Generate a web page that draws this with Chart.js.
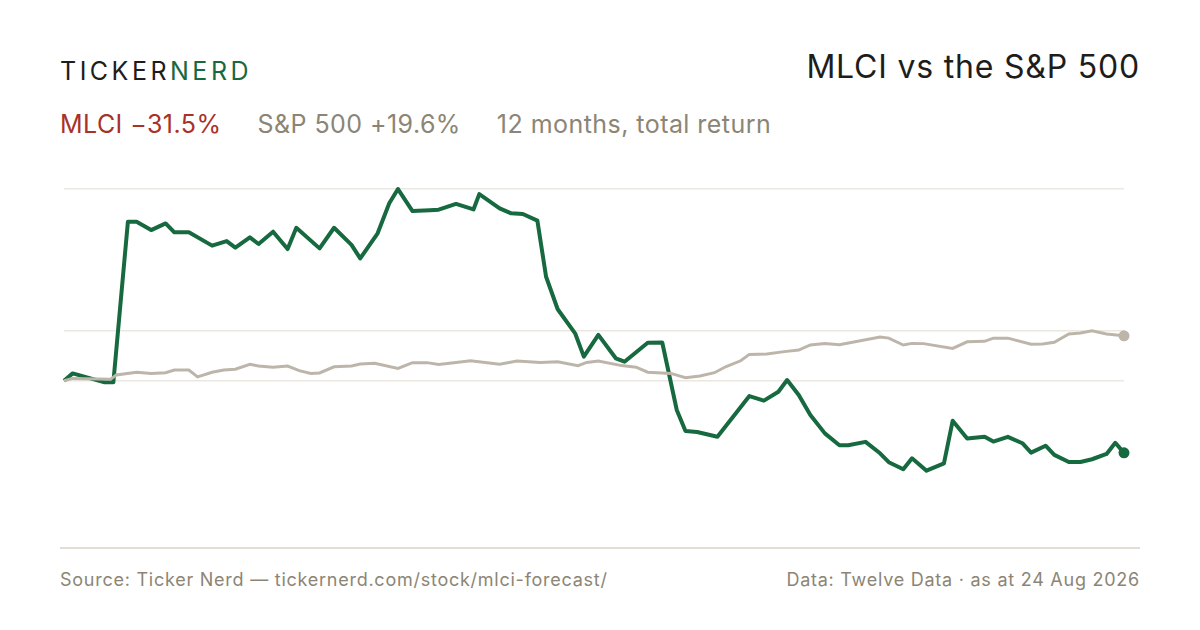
<!DOCTYPE html>
<html>
<head>
<meta charset="utf-8">
<script src="https://cdn.jsdelivr.net/npm/chart.js@4"></script>
<style>
  html, body { margin: 0; padding: 0; background: #fff; }
  body { width: 1200px; height: 630px; position: relative; overflow: hidden; font-family: Inter, "Noto Sans", sans-serif; }
  .brand { position: absolute; left: 60px; top: 56px; font-size: 25px; letter-spacing: 3.5px; color: #1d1d1b; font-weight: 400; }
  .brand span { color: #17693f; }
  .title { position: absolute; right: 60px; top: 47px; font-size: 32px; letter-spacing: 0.8px; color: #1d1d1b; }
  .sub { position: absolute; left: 60px; top: 109px; font-size: 25px; letter-spacing: 0.45px; color: #8c8575; white-space: nowrap; }
  .sub .neg { color: #a8312a; margin-right: 36px; }
  .sub .sp { margin-right: 36px; }
  .chart { position: absolute; left: 44px; top: 150px; width: 1100px; height: 360px; }
  .rule { position: absolute; left: 60px; top: 547px; width: 1080px; height: 2px; background: #e2ded5; }
  .foot { position: absolute; top: 569px; font-size: 18px; letter-spacing: 0.75px; color: #8c8575; }
</style>
</head>
<body>
<div class="brand">TICKER<span>NERD</span></div>
<div class="title">MLCI vs the S&amp;P 500</div>
<div class="sub"><span class="neg">MLCI −31.5%</span><span class="sp">S&amp;P 500 +19.6%</span>12 months, total return</div>
<div class="chart"><canvas id="c" width="1100" height="360"></canvas></div>
<div class="rule"></div>
<div class="foot" style="left:60px">Source: Ticker Nerd — tickernerd.com/stock/mlci-forecast/</div>
<div class="foot" style="right:60px">Data: Twelve Data · as at 24 Aug 2026</div>
<script>
// days since start, total return in %
const mlciDays = [0, 3, 14, 17, 22, 25, 30, 35, 38, 43, 51, 56, 59, 64, 67, 72, 77, 80, 88, 93, 99, 102, 108, 112, 115, 120, 126, 129, 135, 141, 143, 150, 154, 158, 163, 166, 170, 176, 179, 184, 190, 193, 201, 206, 211, 214, 218, 225, 236, 241, 246, 249, 253, 257, 262, 267, 270, 276, 281, 284, 289, 292, 297, 303, 306, 311, 317, 320, 325, 330, 333, 338, 341, 346, 350, 354, 359, 362, 365];
const mlciReturn = [0, 3.2, -0.7, -0.7, 69.4, 69.4, 65.8, 68.7, 64.8, 64.8, 59.0, 61.0, 58.1, 62.6, 59.7, 65.1, 57.5, 66.8, 57.8, 66.8, 59.3, 53.4, 64.4, 77.5, 83.7, 74.1, 74.5, 74.7, 77.2, 74.8, 81.5, 75.3, 73.1, 72.8, 69.9, 45.4, 31.2, 20.7, 10.5, 20.0, 9.8, 8.3, 16.6, 16.7, -12.8, -22.0, -22.4, -24.5, -6.7, -8.7, -4.8, 0.3, -6.2, -15.0, -23.0, -28.2, -28.2, -26.7, -31.7, -35.6, -38.7, -33.9, -39.3, -36.1, -17.5, -25.2, -24.5, -26.6, -24.5, -27.3, -31.4, -28.4, -32.4, -35.5, -35.5, -34.3, -32.0, -27.1, -31.5];
const spxDays = [0, 3, 16, 18, 25, 30, 35, 38, 43, 46, 51, 55, 59, 64, 67, 72, 77, 81, 85, 88, 93, 99, 102, 107, 115, 120, 125, 129, 135, 140, 150, 156, 164, 170, 177, 180, 184, 192, 197, 201, 209, 214, 219, 224, 228, 233, 236, 242, 248, 253, 257, 262, 267, 281, 284, 289, 292, 296, 306, 311, 317, 320, 325, 333, 337, 341, 346, 350, 354, 359, 365];
const spxReturn = [0, 1.0, 0.6, 2.5, 3.7, 3.2, 3.5, 4.7, 4.7, 1.7, 3.7, 4.7, 5.0, 7.2, 6.4, 5.9, 6.4, 4.4, 3.2, 3.4, 6.1, 6.4, 7.3, 7.6, 5.4, 7.9, 7.9, 7.1, 8.0, 8.7, 7.2, 8.6, 8.0, 8.3, 6.6, 8.0, 8.6, 6.6, 5.9, 3.7, 3.2, 1.3, 2.1, 3.5, 6.2, 8.7, 11.5, 11.7, 12.7, 13.4, 15.6, 16.2, 15.7, 19.1, 18.6, 15.6, 16.3, 16.2, 14.1, 17.0, 17.2, 18.6, 18.6, 15.9, 16.0, 16.8, 20.4, 20.8, 21.8, 20.4, 19.6];

const toPoints = (days, vals) => days.map((d, i) => ({ x: d, y: vals[i] }));
const lastDot = (ctx) => ctx.dataIndex === ctx.dataset.data.length - 1 ? 5.5 : 0;

new Chart(document.getElementById('c'), {
  type: 'line',
  data: {
    datasets: [
      {
        label: 'S&P 500',
        data: toPoints(spxDays, spxReturn),
        borderColor: '#bdb5aa',
        backgroundColor: '#bdb5aa',
        borderWidth: 3,
        pointRadius: lastDot,
        pointBorderWidth: 0,
        tension: 0,
        clip: false
      },
      {
        label: 'MLCI',
        data: toPoints(mlciDays, mlciReturn),
        borderColor: '#17693f',
        backgroundColor: '#17693f',
        borderWidth: 4,
        pointRadius: lastDot,
        pointBorderWidth: 0,
        borderJoinStyle: 'round',
        tension: 0,
        clip: false
      }
    ]
  },
  options: {
    responsive: false,
    animation: false,
    layout: { padding: { left: 20, right: 20, top: 10, bottom: 10 } },
    plugins: { legend: { display: false }, tooltip: { enabled: false } },
    scales: {
      x: { type: 'linear', min: 0, max: 365, display: false },
      y: {
        min: -52.1,
        max: 96.4,
        border: { display: false },
        grid: { color: '#ebe8e1', lineWidth: 1.5, drawTicks: false },
        ticks: { display: false },
        afterBuildTicks: (axis) => {
          axis.ticks = [0, Math.max(...spxReturn), Math.max(...mlciReturn)].map(v => ({ value: v }));
        }
      }
    }
  }
});
</script>
</body>
</html>
